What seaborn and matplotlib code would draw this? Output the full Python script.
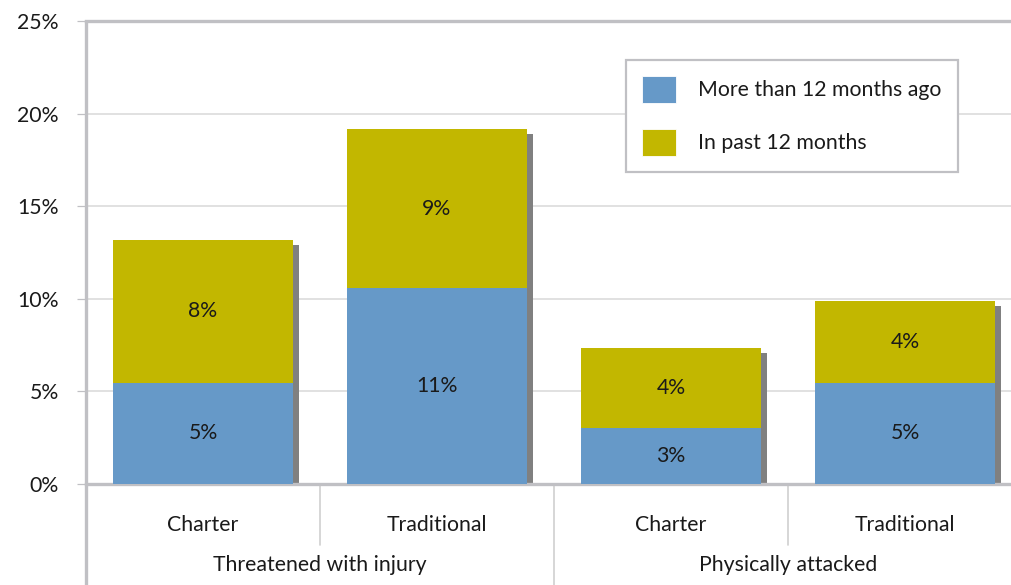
import matplotlib
matplotlib.use("Agg")
import matplotlib.pyplot as plt
import matplotlib.patheffects as pe
from matplotlib.patches import Patch
import seaborn as sns
import pandas as pd

# ---- data ----
categories = ["Charter", "Traditional", "Charter", "Traditional"]
groups = ["Threatened with injury", "Physically attacked"]
more_than_12 = [5.47, 10.6, 3.03, 5.47]
past_12 = [7.73, 8.55, 4.33, 4.43]
yticks = [0, 5, 10, 15, 20, 25]
series_names = ["More than 12 months ago", "In past 12 months"]

BLUE = "#6699c8"
YELLOW = "#c2b700"
FRAME = "#c0c0c4"
GRID = "#d9d9d9"

sns.set_theme(style="white")
plt.rcParams["font.family"] = ["Lato", "DejaVu Sans"]

df = pd.DataFrame({
    "pos": [str(i) for i in range(len(categories))],
    "more": more_than_12,
    "past": past_12,
})
df["total"] = df["more"] + df["past"]

fig = plt.figure(figsize=(10.12, 5.85), dpi=100)
W, H = 1012, 585
ax = fig.add_axes([86 / W, (H - 484) / H, 936 / W, 463 / H])

ax.set_axisbelow(True)
for y in yticks[1:-1]:
    ax.axhline(y, color=GRID, lw=1.1, zorder=0)

sns.barplot(data=df, x="pos", y="total", color=YELLOW, width=0.77,
            saturation=1, linewidth=0, ax=ax, zorder=2)
for p in ax.patches:
    p.set_path_effects([pe.SimplePatchShadow(offset=(4.4, -3.6),
                                             shadow_rgbFace="#808080", alpha=1),
                        pe.Normal()])
sns.barplot(data=df, x="pos", y="more", color=BLUE, width=0.77,
            saturation=1, linewidth=0, ax=ax, zorder=3)

fs = 15.3
for i, (m, p) in enumerate(zip(more_than_12, past_12)):
    ax.text(i, m / 2, f"{round(m)}%", ha="center", va="center", fontsize=fs,
            color="#1a1a1a", zorder=5)
    ax.text(i, m + p / 2, f"{round(p)}%", ha="center", va="center", fontsize=fs,
            color="#1a1a1a", zorder=5)

ax.set_xlim(-0.5, len(categories) - 0.5)
ax.set_ylim(0, 25)
ax.set_yticks(yticks)
ax.set_yticklabels([f"{v}%" for v in yticks], fontsize=fs, color="#1a1a1a")
ax.tick_params(axis="y", left=True, length=6.5, width=0.9, color=FRAME, pad=13)
ax.set_xticks([])
ax.set_xlabel("")
ax.set_ylabel("")

ax.spines["right"].set_visible(False)
for s in ["top", "bottom"]:
    ax.spines[s].set_color(FRAME)
    ax.spines[s].set_linewidth(2.4)
ax.spines["left"].set_visible(False)
# left frame line continuing below the axis
ax.plot([0, 0], [-0.22, 1.003], transform=ax.transAxes, color=FRAME, lw=2.4,
        clip_on=False, zorder=6, solid_capstyle="butt")

# category separators and labels
tr = ax.get_xaxis_transform()
for i, c in enumerate(categories):
    ax.text(i, -0.088, c, transform=tr, ha="center", va="center", fontsize=fs,
            color="#1a1a1a")
for k in range(len(categories) - 1):
    x = k + 0.5
    bottom = -0.22 if (k + 1) % 2 == 0 else -0.132
    ax.plot([x, x], [0, bottom], transform=tr, color="#d0d0d0", lw=1.2,
            clip_on=False, zorder=1)
for g, name in enumerate(groups):
    ax.text(2 * g + 0.5, -0.175, name, transform=tr, ha="center", va="center",
            fontsize=fs, color="#1a1a1a")

handles = [Patch(facecolor=BLUE, edgecolor="white", linewidth=0.6),
           Patch(facecolor=YELLOW, edgecolor="white", linewidth=0.6)]
leg = ax.legend(handles, series_names, loc="upper left",
                bbox_to_anchor=(0.577, 0.916), fontsize=fs, frameon=True,
                fancybox=False, framealpha=1, edgecolor=FRAME,
                handlelength=1.6, handleheight=1.6, handletextpad=1.05,
                labelspacing=1.2, borderpad=0.75, borderaxespad=0)
leg.get_frame().set_linewidth(1.6)
for t in leg.get_texts():
    t.set_color("#1a1a1a")
leg.set_zorder(10)

fig.savefig("out.png", dpi=100)
